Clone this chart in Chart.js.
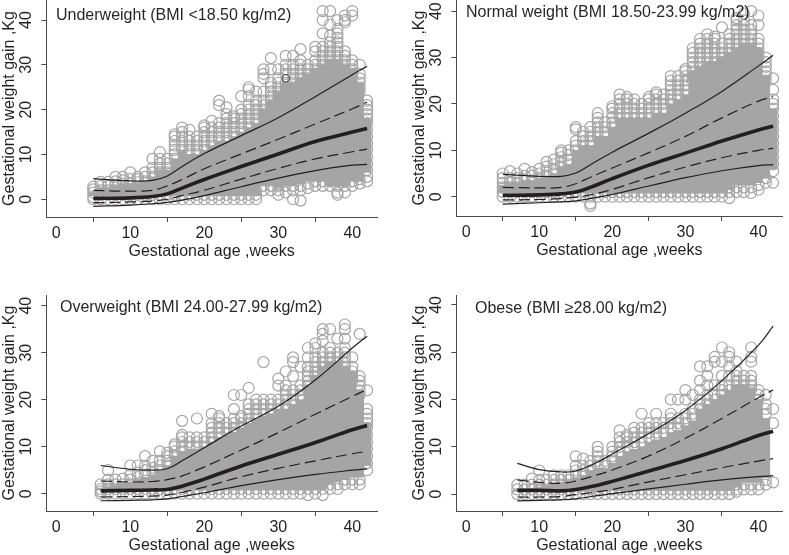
<!DOCTYPE html>
<html><head><meta charset="utf-8">
<style>
html,body{margin:0;padding:0;background:#fff;width:789px;height:555px;overflow:hidden}
.p{position:absolute}
.t{position:absolute;font:16px "Liberation Sans",Arial,sans-serif;color:#2a2627;white-space:nowrap;line-height:18px}
</style>
<script src="https://cdn.jsdelivr.net/npm/chart.js@4/dist/chart.umd.js"></script>
</head><body>
<canvas class="p" id="c1" style="left:0;top:-15px"></canvas>
<canvas class="p" id="c2" style="left:410px;top:-15px"></canvas>
<canvas class="p" id="c3" style="left:0;top:280px"></canvas>
<canvas class="p" id="c4" style="left:410px;top:280px"></canvas>
<div class="t" style="left:56px;top:6px">Underweight (BMI &lt;18.50 kg/m2)</div>
<div class="t" style="left:466px;top:3px">Normal weight (BMI 18.50-23.99 kg/m2)</div>
<div class="t" style="left:60px;top:298px">Overweight (BMI 24.00-27.99 kg/m2)</div>
<div class="t" style="left:475px;top:299px">Obese (BMI ≥28.00 kg/m2)</div>
<script>
const tickValues=[0,10,20,30,40];
const xTitle="Gestational age ,weeks";
const yTitle="Gestational weight gain ,Kg";

// ---- Underweight ----
const uwFirstWeek=5;
const uwCoreLow=[0.8,0.8,0.8,0.8,0.8,0.8,0.8,0.8,0.8,0.8,0.8,0.8,0.8,0.8,0.8,0.8,0.8,0.8,0.8,0.8,0.8,0.8,0.8,3,3,2.5,3,3,3.5,4,4,4,3,3,3,4,4,6];
const uwCoreHigh=[1.5,2.5,2.5,3,3.5,3.5,3.5,4,5,6.5,6.5,9,11,10,10,11,12,13,13,14,15,16,17,20,22,24,26,26,27,28,29,30,31,31,30,29,26,18];
const uwRings=[
[0,0.5,1.5,2.2,2.8],[0,1,2,3,3.9],[0,1,2,3,3.9],[0,1,2,3.2,4,5],[0,1,2,3.5,4.2,5],[0,1,2,3.5,4.5,6],[0,1,2,3.8,4.5,5],[0,1,2,4,5,6],
[0,1,2,5,6,7,9],[0,1,2,6,7,8,9,10.5],[0,1,2,6,7,8,9],[0,1,2,9,10,11,12,13,14,14.5],[0,1,2,11,12,13,14,15,16],[0,1,2,10,11,12,13,14,15.5],
[0,1,2,10,11,12,13,14],[0,1,2,11,12,13,14,15,16,16.5],[0,1,2,12,13,14,15,16,17.5],[0,1,2,13,14,15,16,17,21,22],[0,1,2,13,14,15,16,17,18,19,20.5],
[0,1,2,14,15,16,17,18,18.5],[0,1,2,15,16,17,18,19,20,23],[0,1,2,16,17,18,19,20,21,23,24.5,25],[0,1,2,17,18,19,20,21,22,24],
[2,3,18,19,20,21,22,24,27,28,29],[2,3,20,21,22,23,24,25,26,29,31.5],[1,2,3,21,22,23,24,25,26,27,29],[1.5,3,23,24,25,26,28,29,30,32],
[0,2,3,23,24,25,26,27,28,29,30,32],[-0.3,2,3,24,25,26,27,28,29,30,31,33.5],[2.5,3.5,25,26,27,28,29,30],[3,4,26,27,28,29,30,31,33,34],
[3,4,27,28,29,30,31,32,33,34,37,40,42],[3,4,28,29,30,31,32,33,34,35,36.5,39,42],[1,1.5,3,4,28,29,30,31,32,33,34,35,36,37,38,40],
[1.5,3,4,27,28,29,30,31,32,33,39.5,40,41],[3,4,27,28,29,30,31,41,42],[3.5,4.5,24,25,26,27,28,30],
[4,5,6.5,8,9.5,11,12.5,14,15.5,17,18,19,20,21,22]];
const uwDarkRing=[{x:31,y:27}];
const uwCurveWeeks=[5,10,13,15,17,20,25,30,35,40,42];
const uwUpper=[4.6,4.1,4.2,5.2,7.3,10.2,14.2,18.2,22.9,27.8,29.7];
const uwUpperDash=[2,1.8,2,3,4.4,6.8,10.1,13.4,16.8,20.2,21.7];
const uwMedian=[0.2,0.3,0.6,1.2,2.5,4.4,7.3,10.1,12.9,15,15.8];
const uwLowerDash=[-0.8,-0.6,-0.4,0,0.8,2,4.5,6.9,9,10.6,11.2];
const uwLower=[-1.6,-1.3,-1,-0.7,-0.2,0.8,2.8,4.7,6.4,7.6,7.8];

// ---- Normal weight ----
const nwFirstWeek=5;
const nwCoreLow=[0.8,0.8,0.8,0.8,0.8,0.8,0.8,0.8,0.8,0.8,0.8,0.8,0.8,0.8,0.8,0.8,0.8,0.8,0.8,0.8,0.8,0.8,0.8,0.8,0.8,0.8,0.8,0.8,0.8,0.8,0.8,1.5,2.5,2.5,2.5,3,4,6];
const nwCoreHigh=[2.5,3,3,3.5,3.5,4,4.5,5,6.5,7,10,11,11,13,13,15,17,17,17,17,17,18,18,20,21,22,27,28,29,29,30,31,32,33,33,32,26,19];
const nwRings=[
[0,1,2,3,4,5],[0,1,2,3,4,5.5],[0,1,2,3,4,5],[0,1,2,3.5,4.5,6],[0,1,2,3.5,4.5,5.3],[0,1,2,4,5,6],[0,1,2,4.5,5.5,6.5,7.5],[0,1,2,5,6,7,8],
[0,1,2,6.5,7.5,8.5,9.5,10],[0,1,2,7,8,9,10],[0,1,2,10,11,12,14.5,15],[0,1,2,11,12,13,14],[-2,-1.5,0,1,2,11,12,13,14,15],[0,1,2,13,14,15,16,17,18],
[0,1,2,13,14,15,16],[0,1,2,15,16,17,18,19,19.5],[0,1,2,17,18,19,20,21,22],[0,1,2,17,18,19,20,21,21.5],[0,1,2,17,18,19,20,21],
[0,1,2,17,18,19,20],[0,1,2,17,18,19,20,21,21.5],[0,1,2,18,19,20,21,22,22.5],[0,1,2,18,19,20,21,22],[0,1,2,20,21,22,23,24,25,26],
[0,1,2,21,22,23,24,25,26],[0,1,2,22,23,24,25,26,27,27.5],[0,1,2,25,26,27,28,29,30,31,32],[0,1,2,26,27,28,29,30,31,32,33,34],
[0,1,2,27,28,29,30,31,32,33,34,35],[0,1,2,27,28,29,30,31,32,33,34,34.5],[0,1,2,28,29,30,31,32,33,36.5],[-0.3,1,2,29,30,31,32,33,34,35],
[1,2,30,31,32,33,34,35,36,37,38,38.5],[1,2,31,32,33,34,35,36,37,38,39.5],[0.8,2,31,32,33,34,35,36,37,40],[1.5,2.5,30,31,32,33,34,37,39],
[3,4,25,26,27,28,29,30],[3,5.5,7,8.5,10,11.5,13,14.5,16,17.5,19,20,21,23,25.5]];
const nwCurveWeeks=[5,10,13,15,17,20,25,30,35,40,42];
const nwUpper=[4.8,4.4,4.4,5.1,6.9,9.6,13.7,18,22.7,28.2,30.5];
const nwUpperDash=[2,1.9,2,2.8,4.2,6.2,9.5,13,17,20.6,21.6];
const nwMedian=[0.3,0.4,0.6,1,2,3.9,6.8,9.4,12,14.4,15.2];
const nwLowerDash=[-0.7,-0.6,-0.4,-0.1,0.4,1.6,4.1,6.4,8.4,10,10.4];
const nwLower=[-1.6,-1.3,-1.1,-0.9,-0.4,0.5,2.3,4.1,5.6,6.7,6.9];

// ---- Overweight ----
const owFirstWeek=6;
const owCoreLow=[0.8,0.8,0.8,0.8,0.8,0.8,0.8,0.8,0.8,0.8,0.8,0.8,0.8,0.8,0.8,0.8,0.8,0.8,0.8,0.8,0.8,0.8,0.8,0.8,0.8,0.8,0.8,0.8,0.8,0.8,1,2,2.5,3,3.5,3.5,6];
const owCoreHigh=[1,1.5,1.8,2,2.5,3,3.5,4,5,6,8,9,9.5,9.5,10,11,12,12.5,13,14,15,16,16.5,17,18,18,19,20,23,25,27,28,28,27,26,22,15];
const owRings=[
[0,0.5,1,2],[0,1,2,3,5],[0,1,2,3],[0,1,2,3.2],[0,1,2,3,4,6],[0,1,2,3.5,4.5,6],[0,1,2,4,5,6,8],[0,1,2,4.5,5.5,7],[0,1,2,5,6,7,9],[0,1,2,6,7,8,8.7],
[0,1,2,8,9,10,10.5],[0,1,2,9,10,11,12,12.5,15.5],[0,1,2,10,11,12],[0,1,2,10,11,12,16],[0,1,2,10,11,12],[0,1,2,11,12,13,14,15,17],[0,1,2,12,13,14,15,16,16.5],
[0,1,2,13,14,15],[0,1,2,13,14,15,16,18,21],[0,1,2,14,15,16,16.5,21],[0,1,2,15,16,17,18,19,22.5],[0,1,2,16,17,18,19,20],[0,1,2,17,18,19,20,28],
[0,1,2,17,18,19,20],[0,1,2,18,19,20,23,24.5],[0,1,2,18,19,20,21,22,23,26],[0,1,2,19,20,21,22,25,28,29],[0,1,2,20,21,22,23,27],[-0.3,1,2,22,23,24,25,26,27,29,31],
[0,1,2,24,25,26,27,28,29,31,32],[-0.3,1,2,25,26,27,28,29,30,32.5,34,35],[1,2,26,27,28,29,30,31,35],[1,2,26,27,28,29,30,33],[2,3,25,26,27,28,29,30,31,33,35,36],
[2,3,24,25,26,27,29],[2,3,21,22,23,24,25,34],[5,6.5,8,9.5,11,12.5,14,15,16,17,18,22]];
const owCurveWeeks=[6,10,13,15,17,20,25,30,35,40,42];
const owUpper=[6,5.2,5,5.3,7,9.8,14.4,18.6,24.2,31,33.5];
const owUpperDash=[2.7,2.5,2.6,3,3.8,5.7,9.3,13,16.9,20.7,22.2];
const owMedian=[0.6,0.7,0.8,0.9,1.6,3.1,5.9,8.4,10.9,13.6,14.5];
const owLowerDash=[-0.7,-0.6,-0.5,-0.3,0.3,1.4,3.6,5.4,7,8.5,9];
const owLower=[-1.5,-1.4,-1.3,-1.1,-0.6,0.2,1.7,3,4.1,5,5.3];

// ---- Obese ----
const obFirstWeek=7;
const obCoreLow=[0.6,0.6,0.6,0.6,0.6,0.6,0.6,0.6,0.6,0.6,0.6,0.6,0.8,0.8,0.8,0.8,0.8,0.8,0.8,0.8,0.8,0.8,0.8,0.8,0.8,0.8,0.8,0.8,0.8,0.8,1.5,2.5,2.5,2.5,3.5];
const obCoreHigh=[0.8,1,1.2,1.5,1.8,2.3,2.5,2.8,3.5,4,5,5.5,5.5,6.5,8,9,9.5,10,11,11.5,12,13,13.5,14.5,15.5,18,19,20,21,22,23,23,22.5,20,16];
const obRings=[
[0,1,2],[0,1,2],[0,1,2,3.3],[0,1,2,3,5],[0,1,2,3],[0,1,2,3,4],[0,1,2,3,4],[0,1,2,3,4],[0,1,2,4,5,6,8],[0,1,2,4,5,6,7.5],[0,1,2,5,6,7],
[0,1,2,6,7,8,9,10],[0,1,2,6,7],[0,1,2,7,8,9,10],[0,1,2,9,10,11,12,13.5],[0,1,2,10,11,12,12.5],[0,1,2,10,11,12,13,14],[0,1,2,11,12,13,14,17],
[0,1,2,12,13,14,15],[0,1,2,12,13,14,15,17],[0,1,2,13,14,15],[0,1,2,14,15,16,17,20],[0,1,2,14,15,16,20],[0,1,2,15,16,17,20,22],[0,1,2,16,17,18,21],
[0,1,2,18,19,20,22,24,27],[0,1,2,19,20,21,23,25,27],[0,1,2,20,21,23,28,29],[0,1,2,21,22,23,25,28,31],[0,1,2,22,23,25,27,29,30],[0.5,1,2,22,23,24,25,26,28],
[1,2,22,23,24,25],[1,2,22,23,24,25,28,29,31],[1,2,20,21,22],[2,3,17,18,19,21],[2.5,15,18]];
const obCurveWeeks=[7,10,13,15,18,20,25,30,35,40,42];
const obUpper=[6.5,5.2,4.7,4.9,6.8,8.5,12.8,17.7,24,31.5,35.5];
const obUpperDash=[3,2.5,2.3,2.8,4.1,5.1,8.1,11.8,16,20.4,22];
const obMedian=[0.8,0.8,0.7,1,1.9,2.7,4.9,7.1,9.6,12.4,13.3];
const obLowerDash=[-0.6,-0.6,-0.5,-0.1,0.5,1,2.6,4.1,5.6,7,7.5];
const obLower=[-1.4,-1.3,-1.2,-1,-0.3,0.1,1.1,2.1,3,3.7,3.9];

const GREY="#a5a5a5", INK="#231f20", AXIS="#4a4a4a", FONT='"Liberation Sans",Arial,sans-serif';
const xy=(xs,ys)=>xs.map((x,i)=>({x,y:ys[i]}));

function panel(id,w,h,top,right,yMin,yMax,xMin,xMax,first,low,high,rings,weeks,curves,extra){
  const c=document.getElementById(id); c.width=w; c.height=h; c.style.width=w+"px"; c.style.height=h+"px";
  const band=low.map((l,i)=>({x:first+i,y:[l,high[i]]}));
  const pts=[]; rings.forEach((r,i)=>r.forEach(y=>pts.push({x:first+i,y})));
  const line=(ys,width,dash)=>({type:"line",data:xy(weeks,ys),borderColor:INK,borderWidth:width,borderDash:dash,pointRadius:0,
    tension:0.4,fill:false,order:1,clip:false,showLine:true});
  const datasets=[
    {type:"bar",data:band,backgroundColor:GREY,barThickness:8,borderWidth:0,order:4},
    {type:"scatter",data:pts,pointStyle:"circle",pointRadius:5.5,pointBorderWidth:1.2,pointBorderColor:GREY,pointBackgroundColor:"rgba(0,0,0,0)",order:3,clip:false},
    line(curves[0],1.2,[]),line(curves[1],1.2,[11,5]),line(curves[2],3.6,[]),line(curves[3],1.2,[11,5]),line(curves[4],1.2,[])
  ];
  if(extra) datasets.push({type:"scatter",data:extra,pointStyle:"circle",pointRadius:3.8,pointBorderWidth:1.1,pointBorderColor:"#4a4a4a",pointBackgroundColor:"rgba(0,0,0,0)",order:2,clip:false});
  new Chart(c,{type:"scatter",data:{datasets},options:{
    responsive:false,animation:false,devicePixelRatio:1,
    layout:{padding:{top,right,left:0,bottom:0}},
    plugins:{legend:{display:false},tooltip:{enabled:false},title:{display:false}},
    scales:{
      x:{type:"linear",min:xMin,max:xMax,offset:false,
        afterFit:s=>{s.height=44;s.paddingLeft=0;s.paddingRight=0},
        afterBuildTicks:s=>{s.ticks=tickValues.map(value=>({value}))},
        border:{display:true,color:AXIS,width:1},
        grid:{drawOnChartArea:false,drawTicks:true,tickLength:5,color:AXIS,lineWidth:1},
        ticks:{color:INK,font:{family:FONT,size:16},padding:2,maxRotation:0,autoSkip:false},
        title:{display:true,text:xTitle,color:INK,font:{family:FONT,size:16},padding:{top:0,bottom:0}}},
      y:{type:"linear",min:yMin,max:yMax,
        afterFit:s=>{s.width=46.3;s.paddingTop=0;s.paddingBottom=0},
        afterBuildTicks:s=>{s.ticks=tickValues.map(value=>({value}))},
        border:{display:true,color:AXIS,width:1},
        grid:{drawOnChartArea:false,drawTicks:true,tickLength:5,color:AXIS,lineWidth:1},
        ticks:{color:INK,font:{family:FONT,size:16},minRotation:90,maxRotation:90,crossAlign:"center",padding:6,autoSkip:false},
        title:{display:true,text:yTitle,color:INK,font:{family:FONT,size:16},padding:{top:0,bottom:0}}}
    }}});
}
panel("c1",394,276,15,17,-3.96,44.47,-1.35,43.34,uwFirstWeek,uwCoreLow,uwCoreHigh,uwRings,uwCurveWeeks,[uwUpper,uwUpperDash,uwMedian,uwLowerDash,uwLower],uwDarkRing);
panel("c2",379,275,15,1.3,-4.16,42.4,-1.35,43.26,nwFirstWeek,nwCoreLow,nwCoreHigh,nwRings,nwCurveWeeks,[nwUpper,nwUpperDash,nwMedian,nwLowerDash,nwLower]);
panel("c3",394,275,15,17,-3.68,42.28,-1.35,43.34,owFirstWeek,owCoreLow,owCoreHigh,owRings,owCurveWeeks,[owUpper,owUpperDash,owMedian,owLowerDash,owLower]);
panel("c4",379,275,15,1.3,-3.56,42.1,-1.35,43.26,obFirstWeek,obCoreLow,obCoreHigh,obRings,obCurveWeeks,[obUpper,obUpperDash,obMedian,obLowerDash,obLower]);
</script>
</body></html>
